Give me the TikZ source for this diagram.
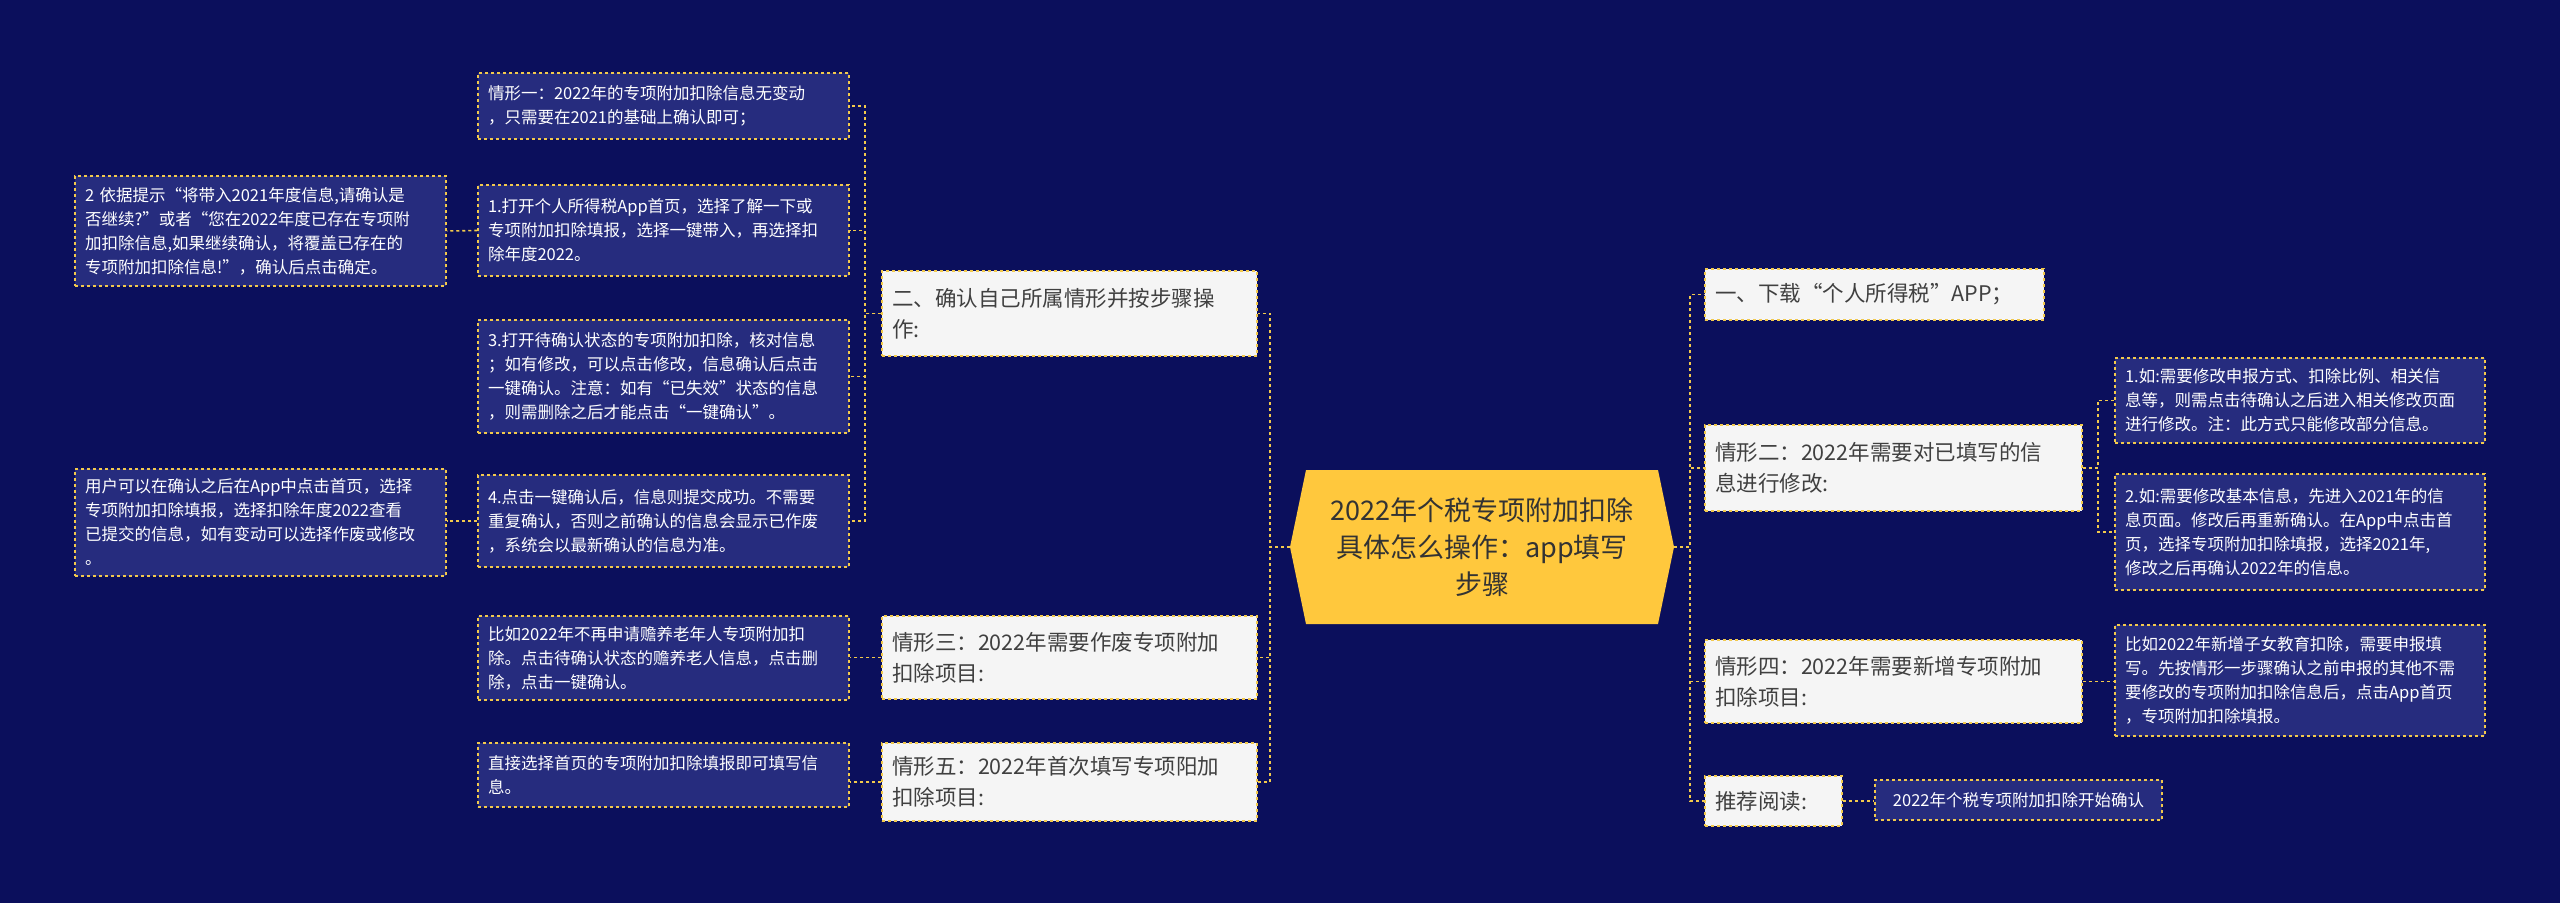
\documentclass[tikz,border=0pt]{standalone}
\usepackage{fontspec}
\setmainfont{Noto Sans CJK SC}
\definecolor{bg}{HTML}{0B0F5C}
\definecolor{bx}{HTML}{262C7E}
\definecolor{ylw}{HTML}{F2C94C}
\definecolor{gold}{HTML}{FFC83D}
\definecolor{lg}{HTML}{F5F5F5}
\tikzset{
 ltwo/.style={draw=ylw,dashed,line width=1.5pt,fill=bx,text=white,font=\fontsize{16.5}{24}\selectfont,align=left,inner sep=10pt,anchor=center},
 lone/.style={draw=ylw,dashed,line width=1.5pt,fill=lg,text=black!75,font=\fontsize{21.5}{31}\selectfont,align=left,inner sep=10pt,anchor=center},
 conn/.style={draw=ylw,dashed,line width=1.6pt},
}
\newcommand{\bx}[6]{\node[#1,minimum width=#4,minimum height=#5,text width=#4-20] (#2) at #3 {#6};}
\begin{document}
\begin{tikzpicture}[x=1pt,y=-1pt]
\fill[bg] (0,0) rectangle (2560,903);
\useasboundingbox (0,0) rectangle (2560,903);
% center
\fill[gold] (1290,547) -- (1306,470) -- (1658,470) -- (1674,547) -- (1658,624) -- (1306,624) -- cycle;
\node[font=\fontsize{27}{37}\selectfont,align=center,text=black!80] (c) at (1482,547) {2022年个税专项附加扣除\\具体怎么操作：app填写\\步骤};
\coordinate (cw) at (1290,547);
\coordinate (ce) at (1674,547);
% level 1 left
\bx{lone}{a}{(1069.5,313.5)}{375}{85}{二、确认自己所属情形并按步骤操\\作:}
\bx{lone}{b}{(1069.5,657.5)}{375}{83}{情形三：2022年需要作废专项附加\\扣除项目:}
\bx{lone}{d}{(1069.5,782)}{375}{78}{情形五：2022年首次填写专项阳加\\扣除项目:}
% level 1 right
\bx{lone}{e}{(1874.5,294.5)}{339}{51}{一、下载“个人所得税”APP；}
\bx{lone}{f}{(1893.5,468)}{377}{86}{情形二：2022年需要对已填写的信\\息进行修改:}
\bx{lone}{g}{(1893.5,681.5)}{377}{83}{情形四：2022年需要新增专项附加\\扣除项目:}
\bx{lone}{h}{(1773.5,801)}{137}{50}{推荐阅读:}
% level 2
\bx{ltwo}{a1}{(663.5,106)}{371}{66}{情形一：2022年的专项附加扣除信息无变动\\，只需要在2021的基础上确认即可；}
\bx{ltwo}{a2}{(663.5,230.5)}{371}{91}{1.打开个人所得税App首页，选择了解一下或\\专项附加扣除填报，选择一键带入，再选择扣\\除年度2022。}
\bx{ltwo}{a3}{(663.5,376.5)}{371}{113}{3.打开待确认状态的专项附加扣除，核对信息\\；如有修改，可以点击修改，信息确认后点击\\一键确认。注意：如有“已失效”状态的信息\\，则需删除之后才能点击“一键确认”。}
\bx{ltwo}{a4}{(663.5,521)}{371}{92}{4.点击一键确认后，信息则提交成功。不需要\\重复确认，否则之前确认的信息会显示已作废\\，系统会以最新确认的信息为准。}
\bx{ltwo}{a21}{(260.5,231)}{371}{110}{2 依据提示“将带入2021年度信息,请确认是\\否继续?”或者“您在2022年度已存在专项附\\加扣除信息,如果继续确认，将覆盖已存在的\\专项附加扣除信息!”，确认后点击确定。}
\bx{ltwo}{a41}{(260.5,522.5)}{371}{107}{用户可以在确认之后在App中点击首页，选择\\专项附加扣除填报，选择扣除年度2022查看\\已提交的信息，如有变动可以选择作废或修改\\。}
\bx{ltwo}{b1}{(663.5,658)}{371}{84}{比如2022年不再申请赡养老年人专项附加扣\\除。点击待确认状态的赡养老人信息，点击删\\除，点击一键确认。}
\bx{ltwo}{d1}{(663.5,775)}{371}{64}{直接选择首页的专项附加扣除填报即可填写信\\息。}
\bx{ltwo}{f1}{(2300,400.5)}{370}{85}{1.如:需要修改申报方式、扣除比例、相关信\\息等，则需点击待确认之后进入相关修改页面\\进行修改。注：此方式只能修改部分信息。}
\bx{ltwo}{f2}{(2300,532)}{370}{116}{2.如:需要修改基本信息，先进入2021年的信\\息页面。修改后再重新确认。在App中点击首\\页，选择专项附加扣除填报，选择2021年,\\修改之后再确认2022年的信息。}
\bx{ltwo}{g1}{(2300,680.5)}{370}{111}{比如2022年新增子女教育扣除，需要申报填\\写。先按情形一步骤确认之前申报的其他不需\\要修改的专项附加扣除信息后，点击App首页\\，专项附加扣除填报。}
\node[ltwo,minimum width=287,minimum height=40,inner sep=6pt] (h1) at (2018.5,800) {2022年个税专项附加扣除开始确认};
% spine coordinates
\coordinate (sl) at (1270,547);
\coordinate (sr) at (1690,547);
\coordinate (sa) at (865,313.5);
\coordinate (sf) at (2098,468);
% connectors
\foreach \n in {a,b,d} \draw[conn] (cw) -- (sl) |- (\n.east);
\foreach \n in {e,f,g,h} \draw[conn] (ce) -- (sr) |- (\n.west);
\foreach \n in {a1,a2,a3,a4} \draw[conn] (a.west) -- (sa) |- (\n.east);
\foreach \n in {f1,f2} \draw[conn] (f.east) -- (sf) |- (\n.west);
\draw[conn] (a2.west) -- (a21.east);
\draw[conn] (a4.west) -- (a41.east |- a4.west);
\draw[conn] (b.west) -- (b1.east |- b.west);
\draw[conn] (d.west) -- (d1.east |- d.west);
\draw[conn] (g.east) -- (g1.west |- g.east);
\draw[conn] (h.east) -- (h1.west |- h.east);
\end{tikzpicture}
\end{document}
